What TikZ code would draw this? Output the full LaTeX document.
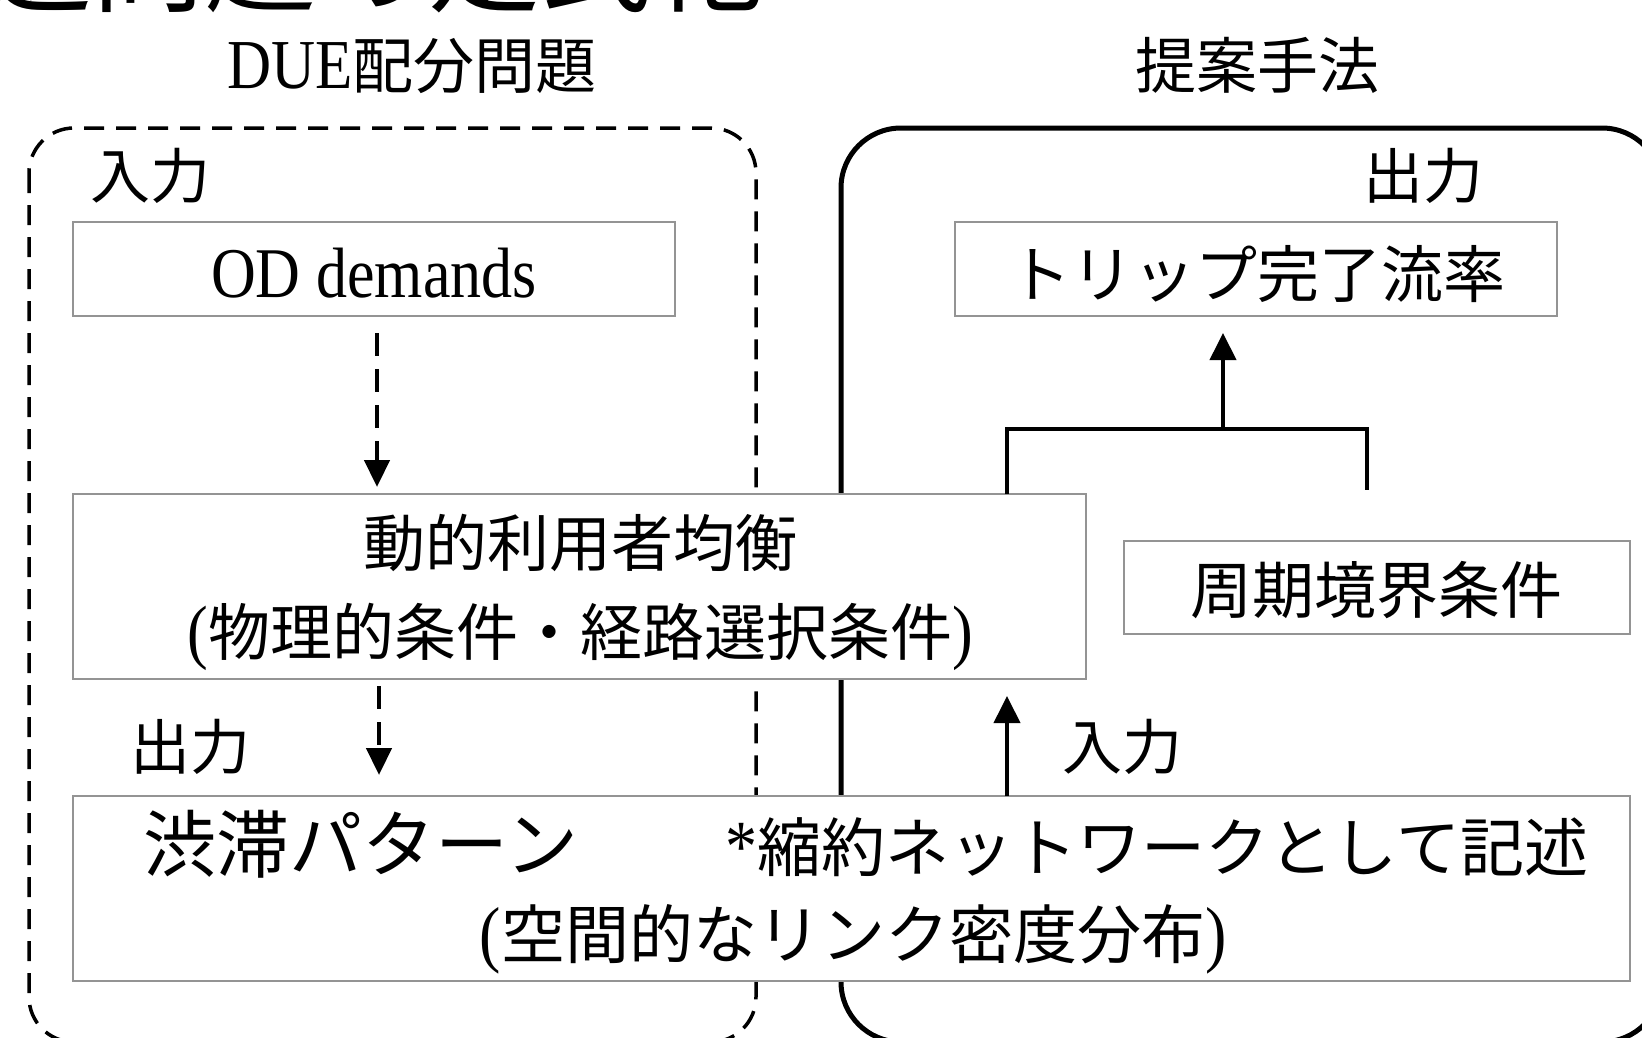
\documentclass[tikz,border=0pt]{standalone}
\usepackage{fontspec}
\setmainfont{Liberation Serif}[FakeStretch=0.87,Scale=1.15]
\newfontfamily\cjk{Noto Sans CJK JP}
\usetikzlibrary{arrows.meta,calc}
\newcommand\J[1]{{\cjk #1}}
\newcommand\fs[1]{\fontsize{#1}{#1}\selectfont}
\begin{document}
\begin{tikzpicture}[x=1pt,y=-1pt,
  lbl/.style={anchor=base,inner sep=0pt,outer sep=0pt},
  gbox/.style={draw=black!42,line width=2pt,fill=white,inner sep=0pt,outer sep=0pt},
  darr/.style={line width=4.5pt,dash pattern=on 23pt off 13pt,-{Triangle[length=27pt,width=25pt]}},
  sarr/.style={line width=4pt,-{Triangle[length=27pt,width=26pt]}},
  conn/.style={line width=4pt}]
\useasboundingbox (0,0) rectangle (1642,1037);
\clip (0,0) rectangle (1642,1037);
% cut-off title
\node[anchor=base west,inner sep=0pt,font=\fs{112}] (title) at (-20,3) {\J{逆問題の定式化}};
% group frames
\draw[line width=3.5pt,dash pattern=on 20pt off 12pt,rounded corners=45pt] (29,128) rectangle (756,1042);
\draw[line width=5pt,rounded corners=60pt] (841,128) rectangle (1662,1042);
% boxes
\node[gbox,minimum width=602pt,minimum height=94pt] (od) at (374,269) {};
\node[gbox,minimum width=602pt,minimum height=94pt] (trip) at (1256,269) {};
\node[gbox,minimum width=1013pt,minimum height=185pt] (due) at (579.5,586.5) {};
\node[gbox,minimum width=506pt,minimum height=93pt] (per) at (1377,587.5) {};
\node[gbox,minimum width=1557pt,minimum height=185pt] (cong) at (851.5,888.5) {};
% connectors
\coordinate (bl) at (1007,429);
\coordinate (bm) at (1223,429);
\coordinate (br) at (1367,429);
\coordinate (brend) at (1367,490);
\draw[darr] ($(od.south)+(3,17)$) -- ($(due.north)+(-202.5,-7)$);
\draw[darr] ($(due.south)+(-200.5,7)$) -- ($(cong.north)+(-472.5,-21)$);
\draw[conn] (due.north -| bl) -- (bl) -- (br) -- (brend);
\draw[sarr] (bm) -- ($(trip.south)+(-33,17)$);
\draw[sarr] (cong.north -| bl) -- ($(due.south -| bl)+(0,17)$);
% texts
\node[lbl,font=\fs{61}] (t1) at (412,88) {DUE\J{配分問題}};
\node[lbl,font=\fs{61}] (t2) at (1257,88) {\J{提案手法}};
\node[lbl,font=\fs{60}] (in1) at (150,198) {\J{入力}};
\node[lbl,font=\fs{60}] (out1) at (1423,198) {\J{出力}};
\node[lbl,font=\fs{62}] (odt) at (374,297) {OD demands};
\node[lbl,font=\fs{62}] (tript) at (1257,297) {\J{トリップ完了流率}};
\node[lbl,font=\fs{62}] (duet1) at (580,566) {\J{動的利用者均衡}};
\node[lbl,font=\fs{62}] (duet2) at (580,655) {(\J{物理的条件・経路選択条件})};
\node[lbl,font=\fs{62}] (pert) at (1376,613) {\J{周期境界条件}};
\node[lbl,font=\fs{73}] (congt1) at (361,871) {\J{渋滞パターン}};
\node[lbl,font=\fs{64}] (congt2) at (1157,871) {*\J{縮約ネットワークとして記述}};
\node[lbl,font=\fs{64}] (congt3) at (853,958) {(\J{空間的なリンク密度分布})};
\node[lbl,font=\fs{60}] (out2) at (190,769) {\J{出力}};
\node[lbl,font=\fs{60}] (in2) at (1122,769) {\J{入力}};
\end{tikzpicture}
\end{document}
